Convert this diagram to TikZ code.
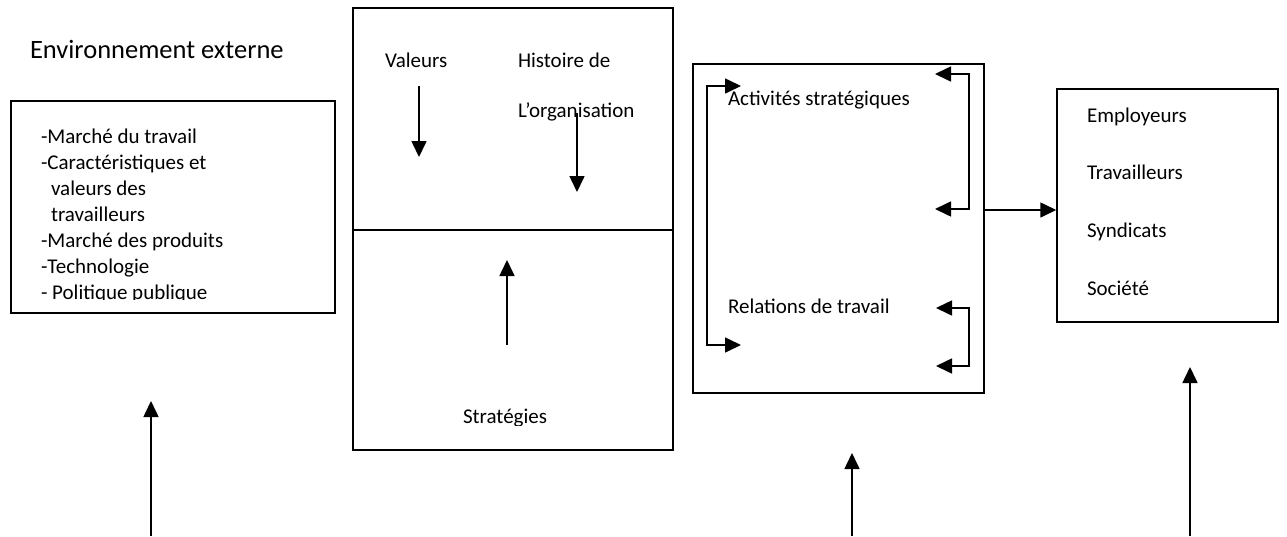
\documentclass[tikz,border=0pt]{standalone}
\usepackage{fontspec}
\setmainfont{Carlito}
\usetikzlibrary{arrows.meta}

\tikzset{
  frame/.style={draw=black, line width=1.5pt, fill=none, inner sep=0pt},
  lbl/.style={inner sep=0pt, outer sep=0pt, anchor=base west,
              font=\fontsize{21}{25}\selectfont},
  title/.style={inner sep=0pt, outer sep=0pt, anchor=base west,
                font=\fontsize{26.5}{31}\selectfont},
  arr/.style={line width=1.6pt, -{Triangle[length=16pt,width=15pt]}},
  link/.style={line width=1.6pt}
}

\begin{document}
\begin{tikzpicture}[x=1pt, y=-1pt]
  \useasboundingbox (0,0) rectangle (1287,536);

  % --- external environment -------------------------------------------------
  \node[title] (envtitle) at (30,58) {Environnement externe};
  \node[frame, minimum width=324pt, minimum height=212pt] (env) at (173,207) {};
  \node[lbl] (e1) at (41,143) {-Marché du travail};
  \node[lbl] (e2) at (41,169) {-Caractéristiques et};
  \node[lbl] (e3) at (51,195) {valeurs des};
  \node[lbl] (e4) at (51,221) {travailleurs};
  \node[lbl] (e5) at (41,247) {-Marché des produits};
  \node[lbl] (e6) at (41,273) {-Technologie};
  \begin{scope}
    \clip (11,250) rectangle (335,299.5);
    \node[lbl] (e7) at (41,299) {- Politique publique};
  \end{scope}

  % --- values, history and strategies ---------------------------------------
  \node[frame, minimum width=320pt, minimum height=442pt] (strat) at (513,229) {};
  \path (0,230) coordinate (split);
  \draw[line width=1.5pt] (strat.west |- split) -- (strat.east |- split);
  \node[lbl] (val) at (385,67) {Valeurs};
  \node[lbl] (hist1) at (518,67) {Histoire de};
  \node[lbl] (hist2) at (518,117) {L’organisation};
  \begin{scope}
    \clip (353,380) rectangle (673,425);
    \node[lbl] (stg) at (463,423) {Stratégies};
  \end{scope}
  \coordinate (va) at (419,86);   \coordinate (vb) at (419,157);
  \coordinate (ha) at (577,113);  \coordinate (hb) at (577,192);
  \coordinate (sa) at (507,345);  \coordinate (sb) at (507,260);
  \draw[arr] (va) -- (vb);
  \draw[arr] (ha) -- (hb);
  \draw[arr] (sa) -- (sb);

  % --- strategic activities and labour relations ----------------------------
  \node[frame, minimum width=291pt, minimum height=329pt] (act) at (838.5,228.5) {};
  \node[lbl] (acts) at (728,105) {Activités stratégiques};
  \node[lbl] (rel) at (728,313) {Relations de travail};

  % left bracket
  \coordinate (lt) at (741,86);  \coordinate (lb) at (741,345);
  \draw[arr] (707,180) |- (lt);
  \draw[arr] (707,180) |- (lb);
  % right upper bracket
  \coordinate (rt) at (935,74);  \coordinate (rb) at (935,209);
  \draw[arr] (969,140) |- (rt);
  \draw[arr] (969,140) |- (rb);
  % right lower bracket
  \coordinate (qt) at (936,308); \coordinate (qb) at (936,366);
  \draw[arr] (969,337) |- (qt);
  \draw[arr] (969,337) |- (qb);

  % --- actors ---------------------------------------------------------------
  \node[frame, minimum width=221pt, minimum height=233pt] (actors) at (1167.5,205.5) {};
  \node[lbl] (a1) at (1087,122) {Employeurs};
  \node[lbl] (a2) at (1087,179) {Travailleurs};
  \node[lbl] (a3) at (1087,237) {Syndicats};
  \node[lbl] (a4) at (1087,295) {Société};

  \path (0,210) coordinate (mid);
  \draw[arr] (act.east |- mid) -- (actors.west |- mid);

  % --- inputs from below ----------------------------------------------------
  \coordinate (b1) at (151,536);  \coordinate (t1) at (151,401);
  \coordinate (b2) at (852,536);  \coordinate (t2) at (852,453);
  \coordinate (b3) at (1190,536); \coordinate (t3) at (1190,367);
  \draw[arr] (b1) -- (t1);
  \draw[arr] (b2) -- (t2);
  \draw[arr] (b3) -- (t3);
\end{tikzpicture}
\end{document}
